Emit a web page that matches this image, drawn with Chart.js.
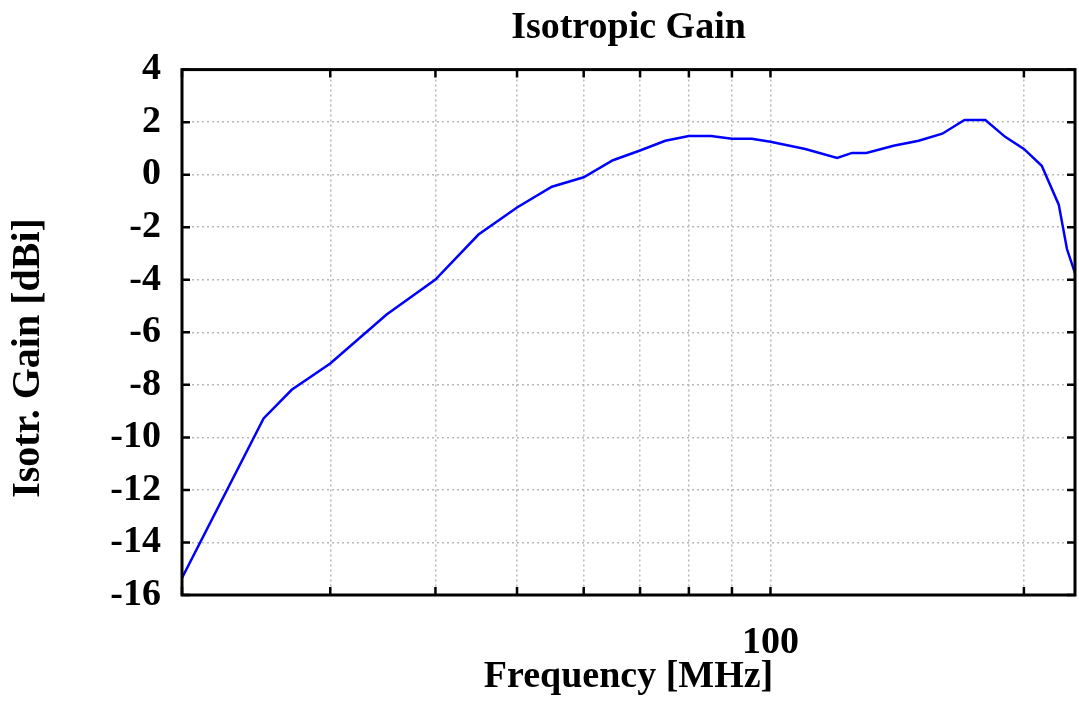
<!DOCTYPE html>
<html>
<head>
<meta charset="utf-8">
<script src="https://cdn.jsdelivr.net/npm/chart.js@4/dist/chart.umd.min.js"></script>
<style>
  body { margin: 0; background: #fff; }
  #wrap { width: 1079px; height: 704px; }
</style>
</head>
<body>
<div id="wrap"><canvas id="gain" width="1079" height="704"></canvas></div>
<script>
// values
const freqMHz = [20, 25, 27, 30, 35, 40, 45, 50, 55, 60, 65, 70, 75, 80, 85, 90, 95, 100,
                 110, 120, 125, 130, 140, 150, 160, 170, 180, 190, 200, 210, 220, 225, 230];
const gainDbi = [-15.35, -9.28, -8.19, -7.19, -5.32, -3.99, -2.28, -1.25, -0.46, -0.10, 0.55, 0.92, 1.29,
                 1.47, 1.47, 1.37, 1.37, 1.25, 0.98, 0.64, 0.83, 0.83, 1.10, 1.29, 1.56, 2.08, 2.08,
                 1.44, 0.98, 0.34, -1.14, -2.83, -3.75];
const xGridMHz = [20, 30, 40, 50, 60, 70, 80, 90, 100, 200];
const xLabelled = [100];
const yTicks = [-16, -14, -12, -10, -8, -6, -4, -2, 0, 2, 4];

const serif = '"Liberation Serif", "Times New Roman", serif';

// black box round the plot with short ticks pointing inwards, and the rotated y title
const framePlugin = {
    id: 'frame',
    afterDraw(chart) {
        const { ctx, chartArea: a, scales } = chart;
        const len = 8;
        ctx.save();
        ctx.strokeStyle = '#000';
        ctx.lineWidth = 2.5;
        ctx.beginPath();
        xGridMHz.forEach(v => {
            const x = scales.x.getPixelForValue(v);
            ctx.moveTo(x, a.bottom); ctx.lineTo(x, a.bottom - len);
            ctx.moveTo(x, a.top); ctx.lineTo(x, a.top + len);
        });
        yTicks.forEach(v => {
            const y = scales.y.getPixelForValue(v);
            ctx.moveTo(a.left, y); ctx.lineTo(a.left + len, y);
            ctx.moveTo(a.right, y); ctx.lineTo(a.right - len, y);
        });
        ctx.stroke();
        ctx.lineWidth = 3;
        ctx.strokeRect(a.left, a.top, a.right - a.left, a.bottom - a.top);

        ctx.translate(29, 358);
        ctx.rotate(-Math.PI / 2);
        ctx.fillStyle = '#000';
        ctx.font = 'bold 40px ' + serif;
        ctx.textAlign = 'center';
        ctx.textBaseline = 'middle';
        ctx.fillText('Isotr. Gain [dBi]', 0, 0);
        ctx.restore();
    }
};

const points = freqMHz.map((f, i) => ({ x: f, y: gainDbi[i] }));

new Chart(document.getElementById('gain').getContext('2d'), {
    type: 'line',
    data: {
        datasets: [{
            data: points,
            borderColor: '#0000ff',
            borderWidth: 2.5,
            pointRadius: 0,
            tension: 0,
            fill: false
        }]
    },
    options: {
        responsive: false,
        animation: false,
        devicePixelRatio: 1,
        layout: { padding: { left: 0, right: 4, top: 0, bottom: 0 } },
        plugins: {
            legend: { display: false },
            tooltip: { enabled: false },
            title: {
                display: true,
                fullSize: false,
                text: 'Isotropic Gain',
                color: '#000',
                font: { family: serif, size: 38, weight: 'bold' },
                padding: { top: 5, bottom: 19 }
            }
        },
        scales: {
            x: {
                type: 'logarithmic',
                min: 20,
                max: 230,
                afterBuildTicks: scale => {
                    scale.ticks = xGridMHz.map(v => ({ value: v }));
                },
                afterFit: scale => { scale.height = 109; },
                grid: { color: '#b8b8b8', lineWidth: 1.5, drawTicks: false },
                border: { display: false, dash: [2, 3] },
                ticks: {
                    autoSkip: false,
                    maxRotation: 0,
                    padding: 25,
                    color: '#000',
                    font: { family: serif, size: 38, weight: 'bold' },
                    callback: v => xLabelled.includes(v) ? String(v) : ''
                },
                title: {
                    display: true,
                    text: 'Frequency [MHz]',
                    color: '#000',
                    font: { family: serif, size: 38, weight: 'bold' },
                    padding: { top: 0, bottom: 4 }
                }
            },
            y: {
                min: -16,
                max: 4,
                afterBuildTicks: scale => {
                    scale.ticks = yTicks.map(v => ({ value: v }));
                },
                afterFit: scale => { scale.width = 182; },
                grid: { color: '#b8b8b8', lineWidth: 1.5, drawTicks: false },
                border: { display: false, dash: [2, 3] },
                ticks: {
                    padding: 21,
                    color: '#000',
                    font: { family: serif, size: 38, weight: 'bold' },
                    callback: v => String(v)
                }
            }
        }
    },
    plugins: [framePlugin]
});
</script>
</body>
</html>
